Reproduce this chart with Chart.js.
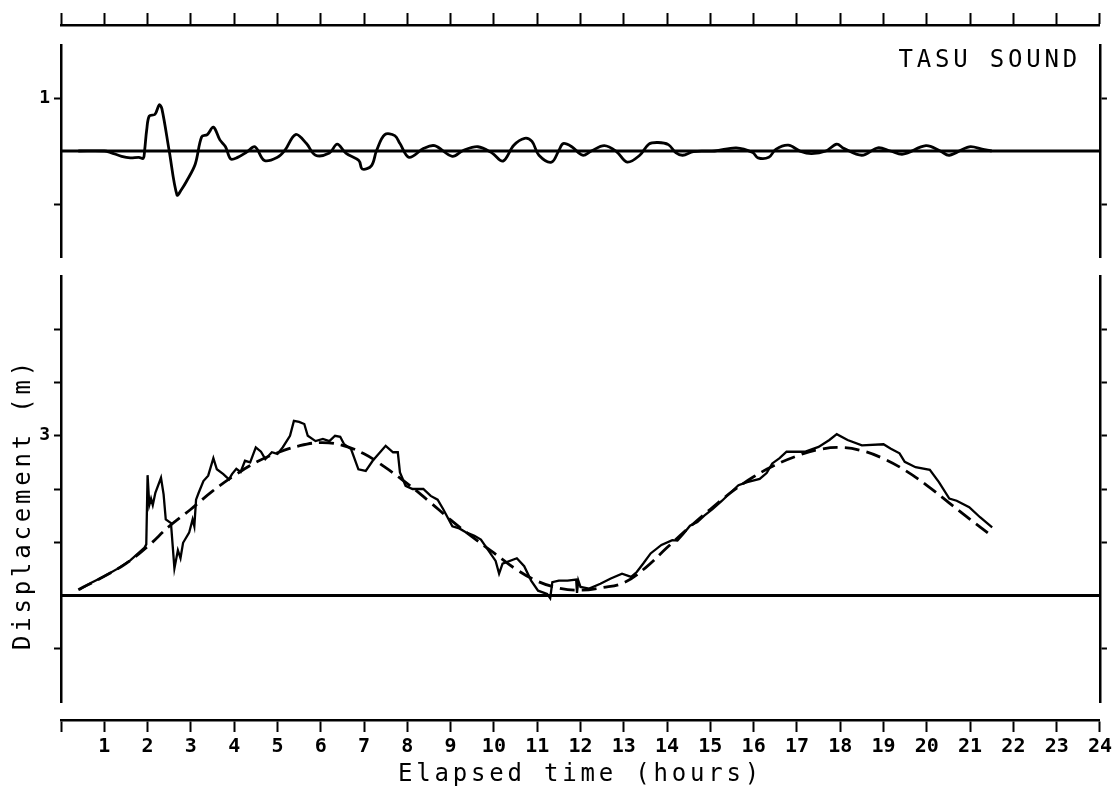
<!DOCTYPE html>
<html>
<head>
<meta charset="utf-8">
<title>Tasu Sound</title>
<script src="https://cdn.jsdelivr.net/npm/chart.js@4.4.1/dist/chart.umd.min.js"></script>
<style>
  html, body { margin: 0; padding: 0; background: #fff; }
  #wrap { position: relative; width: 1115px; height: 801px; }
</style>
</head>
<body>
<div id="wrap"><canvas id="tideChart"></canvas></div>
<script>
// Residual (observed minus predicted), metres
const residualHours = [0.4, 1.0, 1.15, 1.4, 1.6, 1.8, 1.9, 1.93, 1.98, 2.04, 2.17, 2.27, 2.33, 2.5, 2.68, 2.78, 2.9, 3.1, 3.25, 3.38, 3.52, 3.67, 3.8, 3.92, 4.08, 4.29, 4.48, 4.7, 5.0, 5.17, 5.42, 5.67, 5.88, 6.2, 6.38, 6.58, 6.88, 6.96, 7.17, 7.29, 7.48, 7.71, 7.83, 8.04, 8.38, 8.63, 9.04, 9.29, 9.63, 9.96, 10.21, 10.46, 10.71, 10.88, 11.04, 11.33, 11.5, 11.6, 11.8, 12.05, 12.25, 12.55, 12.83, 13.08, 13.37, 13.58, 13.79, 14.03, 14.2, 14.36, 14.61, 15.1, 15.6, 15.98, 16.1, 16.35, 16.51, 16.8, 17.09, 17.34, 17.67, 17.92, 18.08, 18.5, 18.87, 19.16, 19.45, 19.98, 20.31, 20.52, 20.98, 21.3, 21.5];
const residualLevel = [0.0, 0.0, -0.03, -0.10, -0.13, -0.12, -0.14, 0.0, 0.40, 0.66, 0.69, 0.87, 0.80, 0.0, -0.83, -0.73, -0.57, -0.25, 0.27, 0.31, 0.45, 0.21, 0.08, -0.15, -0.12, -0.02, 0.08, -0.18, -0.12, 0.01, 0.31, 0.14, -0.08, -0.04, 0.13, -0.04, -0.18, -0.34, -0.28, 0.01, 0.31, 0.29, 0.14, -0.12, 0.05, 0.10, -0.10, 0.01, 0.08, -0.04, -0.19, 0.11, 0.24, 0.18, -0.08, -0.21, 0.01, 0.14, 0.08, -0.08, 0.0, 0.10, -0.01, -0.21, -0.08, 0.13, 0.16, 0.12, -0.03, -0.08, -0.01, 0.0, 0.06, -0.03, -0.13, -0.12, 0.03, 0.11, -0.01, -0.05, 0.0, 0.13, 0.05, -0.08, 0.06, 0.0, -0.06, 0.10, 0.0, -0.08, 0.08, 0.03, 0.0];

// Observed water level, metres
const observedHours = [0.42, 0.7, 1.0, 1.3, 1.6, 1.93, 1.97, 2.0, 2.04, 2.08, 2.12, 2.18, 2.31, 2.37, 2.42, 2.54, 2.62, 2.7, 2.76, 2.82, 2.96, 3.04, 3.08, 3.12, 3.18, 3.29, 3.4, 3.52, 3.6, 3.75, 3.88, 3.95, 4.05, 4.15, 4.25, 4.37, 4.5, 4.62, 4.72, 4.87, 5.0, 5.12, 5.29, 5.38, 5.5, 5.62, 5.7, 5.88, 6.05, 6.2, 6.33, 6.45, 6.54, 6.7, 6.87, 7.04, 7.2, 7.5, 7.67, 7.78, 7.83, 7.96, 8.12, 8.37, 8.54, 8.7, 8.83, 9.04, 9.2, 9.37, 9.55, 9.7, 10.04, 10.12, 10.2, 10.53, 10.7, 10.86, 11.02, 11.23, 11.3, 11.35, 11.5, 11.7, 11.9, 11.92, 11.95, 12.0, 12.2, 12.46, 12.7, 12.96, 13.17, 13.3, 13.45, 13.62, 13.87, 14.12, 14.24, 14.37, 14.53, 14.7, 14.86, 15.05, 15.27, 15.45, 15.65, 15.85, 16.14, 16.3, 16.43, 16.6, 16.76, 17.18, 17.5, 17.75, 17.92, 18.17, 18.5, 19.0, 19.16, 19.37, 19.49, 19.74, 20.07, 20.28, 20.52, 20.69, 20.98, 21.23, 21.51];
const observedLevel = [0.11, 0.24, 0.36, 0.50, 0.66, 0.90, 0.96, 2.26, 1.70, 1.82, 1.70, 1.93, 2.21, 1.90, 1.43, 1.36, 0.51, 0.85, 0.70, 0.99, 1.18, 1.43, 1.30, 1.80, 1.93, 2.15, 2.25, 2.58, 2.37, 2.28, 2.18, 2.28, 2.38, 2.32, 2.53, 2.50, 2.78, 2.70, 2.56, 2.69, 2.66, 2.78, 3.00, 3.28, 3.26, 3.22, 3.00, 2.90, 2.94, 2.90, 3.00, 2.98, 2.84, 2.75, 2.37, 2.34, 2.53, 2.81, 2.69, 2.69, 2.31, 2.06, 2.00, 2.00, 1.87, 1.80, 1.62, 1.30, 1.26, 1.18, 1.12, 1.05, 0.65, 0.41, 0.60, 0.70, 0.55, 0.28, 0.09, 0.03, -0.05, 0.25, 0.28, 0.28, 0.30, 0.05, 0.28, 0.16, 0.13, 0.22, 0.32, 0.41, 0.35, 0.44, 0.60, 0.79, 0.95, 1.04, 1.03, 1.15, 1.31, 1.38, 1.50, 1.62, 1.78, 1.92, 2.07, 2.13, 2.19, 2.30, 2.48, 2.58, 2.70, 2.70, 2.79, 2.92, 3.03, 2.92, 2.82, 2.84, 2.76, 2.67, 2.51, 2.41, 2.36, 2.13, 1.82, 1.78, 1.66, 1.47, 1.28];

// Predicted tide, metres
const predictedHours = [0.4, 1.0, 1.5, 2.0, 2.5, 3.0, 3.5, 4.0, 4.5, 5.0, 5.5, 6.0, 6.5, 7.0, 7.5, 8.0, 8.5, 9.0, 9.5, 10.0, 10.5, 11.0, 11.5, 12.0, 12.5, 13.0, 13.5, 14.0, 14.5, 15.0, 15.5, 16.0, 16.5, 17.0, 17.5, 18.0, 18.5, 19.0, 19.5, 20.0, 20.5, 21.0, 21.5];
const predictedLevel = [0.11, 0.36, 0.60, 0.92, 1.30, 1.62, 1.96, 2.25, 2.50, 2.68, 2.81, 2.87, 2.82, 2.66, 2.40, 2.10, 1.77, 1.42, 1.10, 0.80, 0.50, 0.27, 0.14, 0.10, 0.15, 0.24, 0.52, 0.90, 1.27, 1.62, 1.95, 2.23, 2.45, 2.62, 2.74, 2.78, 2.72, 2.57, 2.35, 2.07, 1.75, 1.43, 1.12];

// Axis ticks and labels
const hourTicks = [0, 1, 2, 3, 4, 5, 6, 7, 8, 9, 10, 11, 12, 13, 14, 15, 16, 17, 18, 19, 20, 21, 22, 23, 24];
const hourLabels = ['', '1', '2', '3', '4', '5', '6', '7', '8', '9', '10', '11', '12', '13', '14', '15', '16', '17', '18', '19', '20', '21', '22', '23', '24'];
const residualTicks = [-1, 1];
const residualTickLabels = ['', '1'];
const levelTicks = [-1, 1, 2, 3, 4, 5];
const levelTickLabels = ['', '', '', '3', '', ''];

const stationName = 'TASU SOUND';

const mono = 'DejaVu Sans Mono';
const ink = '#000';
const titleSpacing = '3.8px';
// the y title sits a little below the middle of its panel
const titleShift = { yLevel: 15 };

function points(xs, ys) {
    return xs.map((x, i) => ({ x: x, y: ys[i] }));
}

// empty axis used only to leave a gap between the stacked panels
function gapAxis(position, weight, stackWeight) {
    return {
        type: 'linear',
        position: position,
        stack: 'panels',
        stackWeight: stackWeight,
        weight: weight,
        grid: { display: false },
        border: { display: false },
        ticks: { display: false },
        afterFit: s => { s.width = position === 'left' ? 61 : 14; }
    };
}

function panelAxis(position, weight, stackWeight, min, max, tickValues, tickLabels) {
    return {
        type: 'linear',
        position: position,
        stack: 'panels',
        stackWeight: stackWeight,
        weight: weight,
        min: min,
        max: max,
        afterBuildTicks: s => { s.ticks = tickValues.map(v => ({ value: v })); },
        ticks: {
            display: position === 'left',
            autoSkip: false,
            callback: (v, i) => tickLabels[i],
            font: { family: mono, size: 18, weight: 'bold' },
            color: ink,
            padding: 4
        },
        grid: { drawOnChartArea: false, tickLength: 7, tickWidth: 2, tickColor: ink },
        border: { display: true, color: ink, width: 2.5 },
        afterFit: s => { s.width = position === 'left' ? 61 : 14; }
    };
}

// axis titles are drawn with wider letter spacing
const spacedTitles = {
    id: 'spacedTitles',
    beforeDraw(chart) {
        Object.values(chart.scales).forEach(s => {
            if (s.$spaced) return;
            const drawTitle = s.drawTitle;
            s.drawTitle = function () {
                const c = this.ctx;
                c.save();
                c.letterSpacing = titleSpacing;
                c.translate(0, titleShift[this.id] || 0);
                drawTitle.call(this);
                c.restore();
            };
            s.$spaced = true;
        });
    }
};

// station name in the upper right of the residual panel
const stationLabel = {
    id: 'stationLabel',
    afterDraw(chart) {
        const ctx = chart.ctx;
        const top = chart.scales.yTop;
        ctx.save();
        ctx.font = '24px "' + mono + '"';
        ctx.letterSpacing = titleSpacing;
        ctx.fillStyle = ink;
        ctx.textAlign = 'right';
        ctx.textBaseline = 'middle';
        ctx.fillText(stationName, chart.chartArea.right - 19, top.top + 16);
        ctx.restore();
    }
};

const ctx = document.getElementById('tideChart').getContext('2d');
const tideChart = new Chart(ctx, {
    type: 'line',
    data: {
        datasets: [
            {
                label: 'Residual',
                data: points(residualHours, residualLevel),
                yAxisID: 'yTop',
                borderColor: ink,
                borderWidth: 2.8,
                tension: 0.35,
                pointRadius: 0
            },
            {
                label: 'Residual zero',
                data: [{ x: 0, y: 0 }, { x: 24, y: 0 }],
                yAxisID: 'yTop',
                borderColor: ink,
                borderWidth: 3,
                pointRadius: 0
            },
            {
                label: 'Observed',
                data: points(observedHours, observedLevel),
                yAxisID: 'yLevel',
                borderColor: ink,
                borderWidth: 2.3,
                tension: 0,
                pointRadius: 0
            },
            {
                label: 'Predicted',
                data: points(predictedHours, predictedLevel),
                yAxisID: 'yLevel',
                borderColor: ink,
                borderWidth: 2.8,
                borderDash: [15, 7],
                tension: 0.4,
                pointRadius: 0
            },
            {
                label: 'Datum',
                data: [{ x: 0, y: 0 }, { x: 24, y: 0 }],
                yAxisID: 'yLevel',
                borderColor: ink,
                borderWidth: 3,
                pointRadius: 0
            }
        ]
    },
    options: {
        responsive: true,
        maintainAspectRatio: false,
        animation: false,
        layout: { padding: 0 },
        scales: {
            x: {
                type: 'linear',
                position: 'bottom',
                min: 0,
                max: 24,
                afterBuildTicks: s => { s.ticks = hourTicks.map(v => ({ value: v })); },
                ticks: {
                    autoSkip: false,
                    maxRotation: 0,
                    callback: (v, i) => hourLabels[i],
                    font: { family: mono, size: 20, weight: 'bold' },
                    color: ink,
                    padding: 3
                },
                grid: { drawOnChartArea: false, tickLength: 12, tickWidth: 2, tickColor: ink },
                border: { color: ink, width: 2.5 },
                title: {
                    display: true,
                    text: 'Elapsed time (hours)',
                    font: { family: mono, size: 24 },
                    color: ink,
                    padding: { top: 0, bottom: 12 }
                },
                afterFit: s => { s.height = 81; }
            },
            xTop: {
                type: 'linear',
                position: 'top',
                min: 0,
                max: 24,
                afterBuildTicks: s => { s.ticks = hourTicks.map(v => ({ value: v })); },
                ticks: { display: false },
                grid: { drawOnChartArea: false, tickLength: 12, tickWidth: 2, tickColor: ink },
                border: { color: ink, width: 2.5 },
                afterFit: s => { s.height = 25; }
            },
            // left stack, placed top to bottom by descending weight
            gapL1: gapAxis('left', 5, 20),
            yTop: panelAxis('left', 4, 212, -2, 2, residualTicks, residualTickLabels),
            gapL2: gapAxis('left', 3, 19),
            yLevel: Object.assign(panelAxis('left', 2, 426, -2, 6, levelTicks, levelTickLabels), {
                title: {
                    display: true,
                    text: 'Displacement (m)',
                    font: { family: mono, size: 24 },
                    color: ink,
                    padding: { top: 9, bottom: 0 }
                }
            }),
            gapL3: gapAxis('left', 1, 18),
            // right stack, placed top to bottom by ascending weight
            gapR1: gapAxis('right', 1, 20),
            yTopR: panelAxis('right', 2, 212, -2, 2, residualTicks, residualTickLabels),
            gapR2: gapAxis('right', 3, 19),
            yLevelR: panelAxis('right', 4, 426, -2, 6, levelTicks, levelTickLabels),
            gapR3: gapAxis('right', 5, 18)
        },
        plugins: {
            legend: { display: false },
            tooltip: { enabled: false }
        }
    },
    plugins: [spacedTitles, stationLabel]
});
</script>
</body>
</html>
